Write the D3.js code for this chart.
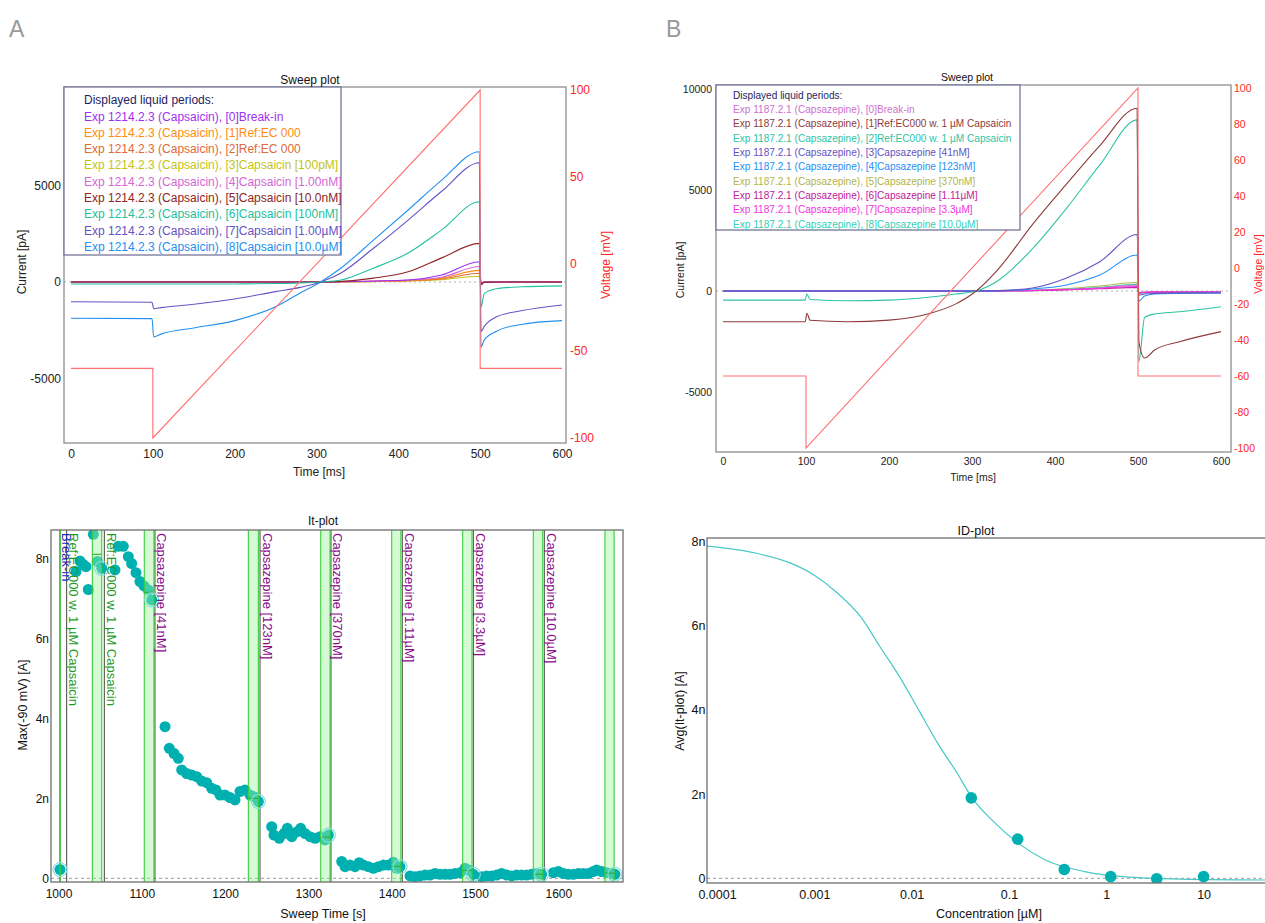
<!DOCTYPE html>
<html><head><meta charset="utf-8">
<script src="https://cdnjs.cloudflare.com/ajax/libs/d3/7.8.5/d3.min.js"></script>
<style>
body{margin:0;background:#fff;}
svg{display:block;}
</style></head><body>
<svg id="chart" width="1265" height="923"></svg>
<script>
// ---------------- DATA ----------------
// Panel A sweep plot (current in pA, time in ms)
const sweepTimeA = [0, 99, 101, 110, 150, 200, 250, 280, 305, 330, 370, 412, 453, 499, 501, 505, 520, 550, 600];
const A0 = [0,0,0,0,0,0,0,0,0,10,50,100,360,1050,-80,0,0,0,0];
const A1 = [0,0,0,0,0,0,0,0,0,10,30,80,200,600,-60,0,0,0,0];
const A2 = [0,0,0,0,0,0,0,0,0,10,30,70,160,450,-50,0,0,0,0];
const A3 = [0,0,0,0,0,0,0,0,0,5,20,50,120,300,-40,0,0,0,0];
const A4 = [0,0,0,0,0,0,0,0,0,10,40,100,250,800,-60,0,0,0,0];
const A5 = [0,0,0,0,0,0,0,0,0,30,200,530,1250,2000,-150,-20,0,0,0];
const A6 = [-100,-100,-100,-100,-100,-100,-80,-50,0,100,725,1500,2700,4160,-1300,-600,-350,-250,-200];
const A7 = [-1020,-1050,-1380,-1330,-1150,-880,-500,-280,0,470,1760,3210,4700,6180,-2570,-2300,-1800,-1490,-1190];
const A8 = [-1880,-1900,-2850,-2700,-2380,-2000,-1280,-570,0,725,2180,3730,5280,6750,-3370,-3000,-2550,-2200,-2000];
const legendA = [
  "Exp 1214.2.3 (Capsaicin), [0]Break-in",
  "Exp 1214.2.3 (Capsaicin), [1]Ref:EC 000",
  "Exp 1214.2.3 (Capsaicin), [2]Ref:EC 000",
  "Exp 1214.2.3 (Capsaicin), [3]Capsaicin [100pM]",
  "Exp 1214.2.3 (Capsaicin), [4]Capsaicin [1.00nM]",
  "Exp 1214.2.3 (Capsaicin), [5]Capsaicin [10.0nM]",
  "Exp 1214.2.3 (Capsaicin), [6]Capsaicin [100nM]",
  "Exp 1214.2.3 (Capsaicin), [7]Capsaicin [1.00µM]",
  "Exp 1214.2.3 (Capsaicin), [8]Capsaicin [10.0µM]"];
const colorsA = ["#a030f0","#ff8c10","#e06a3a","#c4c418","#d468d4","#902424","#22c0a0","#6452c4","#2290f0"];

// Panel B sweep plot
const sweepTimeB = [0, 99, 101, 105, 150, 200, 250, 280, 305, 333, 373, 414, 454, 499, 501, 508, 520, 550, 600];
const B0 = [0,0,0,0,0,0,0,0,0,0,20,60,150,300,-100,-60,-50,-50,-50];
const B1 = [-1520,-1520,-1100,-1450,-1520,-1440,-1100,-650,0,1150,3300,5300,7200,9050,-2500,-3320,-2920,-2510,-2010];
const B2 = [-450,-450,-150,-420,-480,-450,-300,-150,0,560,2100,4100,6240,8470,-3500,-1300,-1140,-1030,-780];
const B3 = [0,0,0,0,0,0,0,0,0,20,150,640,1450,2800,-200,-150,-120,-100,-100];
const B4 = [0,0,0,0,0,0,0,0,0,10,100,300,790,1780,-500,-250,-150,-120,-100];
const B5 = [0,0,0,0,0,0,0,0,0,10,40,120,250,420,-100,-80,-60,-60,-60];
const B6 = [0,0,0,0,0,0,0,0,0,5,20,60,110,180,-80,-60,-50,-50,-50];
const B7 = [0,0,0,0,0,0,0,0,0,5,25,70,130,220,-80,-60,-50,-50,-50];
const B8 = [0,0,0,0,0,0,0,0,0,5,30,90,180,330,-120,-80,-60,-60,-60];
const legendB = [
  "Exp 1187.2.1 (Capsazepine), [0]Break-in",
  "Exp 1187.2.1 (Capsazepine), [1]Ref:EC000 w. 1 µM Capsaicin",
  "Exp 1187.2.1 (Capsazepine), [2]Ref:EC000 w. 1 µM Capsaicin",
  "Exp 1187.2.1 (Capsazepine), [3]Capsazepine [41nM]",
  "Exp 1187.2.1 (Capsazepine), [4]Capsazepine [123nM]",
  "Exp 1187.2.1 (Capsazepine), [5]Capsazepine [370nM]",
  "Exp 1187.2.1 (Capsazepine), [6]Capsazepine [1.11µM]",
  "Exp 1187.2.1 (Capsazepine), [7]Capsazepine [3.3µM]",
  "Exp 1187.2.1 (Capsazepine), [8]Capsazepine [10.0µM]"];
const colorsB = ["#d070d0","#8e3a3a","#2ec4a4","#6452c4","#2290f8","#b4b44a","#c0209c","#f434e0","#34d0b4"];

// Voltage protocol (mV)
const voltTime = [0, 100, 100, 500, 500, 600];
const voltValue = [-60, -60, -100, 100, -60, -60];

// Panel C It-plot (time s, current nA)
const itTime = [1001.8,
  1021,1025.8,1029.5,1033,1035.8,1041.8,1046.6,1051.9,
  1067.8,1071.8,1077.8,1083.8,1087.8,1093,1097.8,1102.6,1107.8,1111.9,
  1127.9,1133,1138.7,1143.8,1147.9,1153.9,1159.9,1165.9,1171.9,1177.9,1183.9,1189,1193.9,1199.9,1205.9,1211.9,1217.9,1223.9,1229.9,1234.7,1239.9,
  1255.9,1258.6,1265,1270.7,1274.7,1280,1286,1290.7,1296,1302,1308,1314,1320,1324,
  1340,1344,1350,1356,1361,1366,1372,1378,1384,1390,1396,1402,1406,1410,
  1422,1428,1434,1440,1446,1452,1458,1464,1470,1476,1482,1488,1492,1498,
  1508,1514,1520,1526,1532,1538,1544,1550,1556,1562,1568,1574,1580,
  1594,1600,1606,1612,1618,1624,1630,1636,1642,1646,1652,1658,1664,1668];
const itValue = [0.22,
  7.67,7.93,7.85,7.79,7.22,8.6,7.92,7.75,
  7.71,8.3,8.3,8.04,7.87,7.64,7.42,7.31,7.21,6.96,
  3.79,3.25,3.12,3.0,2.71,2.62,2.58,2.54,2.43,2.39,2.25,2.21,2.08,2.08,2.02,1.96,2.17,2.21,2.08,2.04,1.92,
  1.29,1.08,1.0,1.12,1.25,1.04,1.16,1.25,1.12,1.04,1.0,1.04,0.96,1.08,
  0.42,0.29,0.33,0.29,0.39,0.33,0.29,0.25,0.29,0.33,0.33,0.4,0.25,0.29,
  0.06,0.04,0.06,0.08,0.08,0.12,0.1,0.1,0.1,0.12,0.14,0.25,0.21,0.1,
  0.04,0.06,0.06,0.08,0.12,0.08,0.06,0.08,0.08,0.08,0.1,0.12,0.1,
  0.14,0.17,0.12,0.1,0.1,0.12,0.12,0.12,0.17,0.21,0.17,0.14,0.12,0.1];
const periodLabels = ["Break-in","Ref:EC000 w. 1 µM Capsaicin","Ref:EC000 w. 1 µM Capsaicin",
  "Capsazepine [41nM]","Capsazepine [123nM]","Capsazepine [370nM]","Capsazepine [1.11µM]","Capsazepine [3.3µM]","Capsazepine [10.0µM]"];
const periodColors = ["#2626c8","#1e9a1e","#1e9a1e","#8a0a8a","#8a0a8a","#8a0a8a","#8a0a8a","#8a0a8a","#8a0a8a"];
const periodStarts = [1001.8, 1009.8, 1055, 1115.8, 1241.9, 1327.1, 1412.7, 1498, 1583.2];
const bandStarts = [1001.8, 1040.6, 1103, 1227.9, 1314.8, 1400, 1485.2, 1570, 1656];
const bandEnds   = [1001.8, 1051.9, 1114.6, 1239.9, 1326, 1411, 1496.4, 1581.3, 1667];
const bandAvg    = [0.22, 8.1, 7.15, 2.0, 1.03, 0.3, 0.2, 0.1, 0.13];
const circleTime  = [1001.8, 1051.9, 1111.9, 1239.9, 1324, 1410, 1498, 1580, 1668];
const circleValue = [0.22, 7.75, 6.96, 1.92, 1.08, 0.29, 0.1, 0.1, 0.1];

// Panel D ID-plot (concentration µM, current nA)
const idConc  = [0.041, 0.123, 0.37, 1.11, 3.3, 10.0];
const idValue = [1.91, 0.93, 0.21, 0.04, -0.01, 0.04];
const fitConc  = [7.9e-5, 2.55e-4, 5.8e-4, 1.0e-3, 1.74e-3, 3.0e-3, 4.73e-3, 7.5e-3, 0.0118, 0.0186, 0.0295, 0.0418, 0.067, 0.125, 0.24, 0.6, 1.5, 5.9, 43];
const fitValue = [7.89, 7.72, 7.48, 7.2, 6.77, 6.21, 5.5, 4.79, 4.0, 3.2, 2.49, 1.91, 1.38, 0.83, 0.43, 0.16, 0.04, -0.02, -0.04];
const idTickValues = [0.0001, 0.001, 0.01, 0.1, 1, 10];
const idTickLabels = ["0.0001","0.001","0.01","0.1","1","10"];
const nTickValues = [0, 2, 4, 6, 8];
const nTickLabels = ["0","2n","4n","6n","8n"];

// ---------------- DRAWING ----------------
const FF = '"Liberation Sans", Arial, Helvetica, sans-serif';
const plain = d => String(d);
const svg = d3.select("#chart").attr("font-family", FF);
const defs = svg.append("defs");
function clip(id, x, y, w, h) {
  defs.append("clipPath").attr("id", id).append("rect").attr("x", x).attr("y", y).attr("width", w).attr("height", h);
  return "url(#" + id + ")";
}
function cleanAxis(g, size, color) {
  g.attr("font-family", FF).attr("font-size", size);
  g.select(".domain").remove();
  g.selectAll(".tick line").remove();
  g.selectAll(".tick text").attr("fill", color);
}

// Panel letters
svg.append("text").attr("x", 9).attr("y", 37).attr("font-size", 23).attr("fill", "#999").text("A");
svg.append("text").attr("x", 666).attr("y", 37).attr("font-size", 23).attr("fill", "#999").text("B");

function sweepPanel(c) {
  const x = d3.scaleLinear().domain([0, 600]).range(c.xr);
  const yL = d3.scaleLinear().domain(c.yLd).range(c.yLr);
  const yR = d3.scaleLinear().domain([-100, 100]).range(c.yRr);
  const f = c.frame;
  const cp = clip(c.id, f.l, f.t, f.r - f.l, f.b - f.t);
  const g = svg.append("g");
  g.append("line").attr("x1", f.l).attr("x2", f.r).attr("y1", yL(0)).attr("y2", yL(0))
    .attr("stroke", "#b0b0b0").attr("stroke-width", 1.2).attr("stroke-dasharray", "2,3");
  const line = d3.line().x((d, i) => x(c.time[i])).y(d => yL(d)).curve(d3.curveMonotoneX);
  const tg = g.append("g").attr("clip-path", cp);
  c.order.forEach(i => {
    tg.append("path").attr("d", line(c.series[i])).attr("fill", "none")
      .attr("stroke", c.colors[i]).attr("stroke-width", 1.1);
  });
  const vline = d3.line().x((d, i) => x(voltTime[i])).y(d => yR(d));
  tg.append("path").attr("d", vline(voltValue)).attr("fill", "none").attr("stroke", "#ff7070").attr("stroke-width", 1.1);
  g.append("rect").attr("x", f.l).attr("y", f.t).attr("width", f.r - f.l).attr("height", f.b - f.t)
    .attr("fill", "none").attr("stroke", "#8e8e8e").attr("stroke-width", 1.3);
  const L = c.leg;
  g.append("rect").attr("x", L.l).attr("y", L.t).attr("width", L.r - L.l).attr("height", L.b - L.t)
    .attr("fill", "#fff").attr("stroke", "#76769a").attr("stroke-width", 1.3);
  g.append("text").attr("x", L.tx).attr("y", L.hy).attr("font-size", L.fs).attr("fill", "#1e1e62")
    .text("Displayed liquid periods:");
  c.legend.forEach((t, i) => {
    g.append("text").attr("x", L.tx).attr("y", L.y0 + i * L.dy).attr("font-size", L.fs)
      .attr("fill", c.colors[i]).text(t);
  });
  const gx = g.append("g").attr("transform", `translate(0,${f.b})`)
    .call(d3.axisBottom(x).tickValues([0,100,200,300,400,500,600]).tickFormat(plain).tickSize(0).tickPadding(c.padX));
  cleanAxis(gx, c.fs, "#222");
  const gl = g.append("g").attr("transform", `translate(${f.l},0)`)
    .call(d3.axisLeft(yL).tickValues(c.ticksL).tickFormat(plain).tickSize(0).tickPadding(c.padL));
  cleanAxis(gl, c.fs, "#222");
  const gr = g.append("g").attr("transform", `translate(${f.r},0)`)
    .call(d3.axisRight(yR).tickValues(c.ticksR).tickFormat(plain).tickSize(0).tickPadding(c.padR));
  cleanAxis(gr, c.fs, "#ff2424");
  g.append("text").attr("x", c.title[0]).attr("y", c.title[1]).attr("text-anchor", "middle")
    .attr("font-size", c.fs).attr("fill", "#111").text("Sweep plot");
  g.append("text").attr("x", c.xlab[0]).attr("y", c.xlab[1]).attr("text-anchor", "middle")
    .attr("font-size", c.fs).attr("fill", "#222").text("Time [ms]");
  g.append("text").attr("transform", `translate(${c.ylab[0]},${c.ylab[1]}) rotate(-90)`).attr("text-anchor", "middle")
    .attr("font-size", c.fs).attr("fill", "#222").text("Current [pA]");
  g.append("text").attr("transform", `translate(${c.vlab[0]},${c.vlab[1]}) rotate(-90)`).attr("text-anchor", "middle")
    .attr("font-size", c.fs).attr("fill", "#ff2424").text("Voltage [mV]");
}

sweepPanel({
  id: "clipA", xr: [71, 562], yLd: [-5000, 5000], yLr: [378.5, 185.5], yRr: [438, 90],
  frame: {l: 64, r: 566, t: 87, b: 443},
  time: sweepTimeA, series: [A0, A1, A2, A3, A4, A5, A6, A7, A8], colors: colorsA,
  order: [3, 2, 1, 4, 0, 5, 6, 7, 8],
  legend: legendA,
  leg: {l: 64, r: 341, t: 87, b: 255, tx: 84, hy: 104, y0: 120.5, dy: 16.3, fs: 12},
  ticksL: [-5000, 0, 5000], ticksR: [-100, -50, 0, 50, 100],
  fs: 12, padX: 6, padL: 3, padR: 4,
  title: [310, 84], xlab: [319, 476], ylab: [26, 262], vlab: [610, 265]
});

sweepPanel({
  id: "clipB", xr: [723, 1221], yLd: [-5000, 10000], yLr: [392, 89], yRr: [448, 88],
  frame: {l: 716, r: 1231, t: 85, b: 452},
  time: sweepTimeB, series: [B0, B1, B2, B3, B4, B5, B6, B7, B8], colors: colorsB,
  order: [5, 8, 0, 6, 7, 4, 3, 2, 1],
  legend: legendB,
  leg: {l: 716, r: 1020, t: 85, b: 230, tx: 733, hy: 98.5, y0: 113, dy: 14.33, fs: 10.1},
  ticksL: [-5000, 0, 5000, 10000], ticksR: [-100, -80, -60, -40, -20, 0, 20, 40, 60, 80, 100],
  fs: 10.5, padX: 6, padL: 4, padR: 3,
  title: [967, 81], xlab: [973, 481], ylab: [684, 270], vlab: [1262, 264]
});

// ---------- Panel C: It-plot ----------
(function () {
  const f = {l: 51, r: 623, t: 530, b: 882};
  const x = d3.scaleLinear().domain([1000, 1600]).range([58.5, 558.3]);
  const y = d3.scaleLinear().domain([0, 8]).range([878.3, 558.3]);
  const g = svg.append("g");
  const cp = clip("clipC", f.l, f.t, f.r - f.l, f.b - f.t);
  const pg = g.append("g").attr("clip-path", cp);
  pg.append("line").attr("x1", f.l).attr("x2", f.r).attr("y1", y(0)).attr("y2", y(0))
    .attr("stroke", "#9a9a9a").attr("stroke-dasharray", "3,3");
  periodStarts.forEach(t => {
    pg.append("line").attr("x1", x(t)).attr("x2", x(t)).attr("y1", f.t).attr("y2", f.b)
      .attr("stroke", "#444").attr("stroke-width", 1);
  });
  pg.selectAll("circle.dot").data(itTime).join("circle").attr("class", "dot")
    .attr("cx", d => x(d)).attr("cy", (d, i) => y(itValue[i])).attr("r", 5.5)
    .attr("fill", "#00b0b0");
  bandStarts.forEach((s, i) => {
    const x0 = x(s), x1 = x(bandEnds[i]);
    pg.append("rect").attr("x", x0).attr("y", f.t).attr("width", Math.max(0, x1 - x0)).attr("height", f.b - f.t)
      .attr("fill", "#9cf59c").attr("fill-opacity", 0.42);
    [x0, x1].forEach(xx => pg.append("line").attr("x1", xx).attr("x2", xx).attr("y1", f.t).attr("y2", f.b)
      .attr("stroke", "#3ccc3c").attr("stroke-width", 1.1));
    pg.append("line").attr("x1", x0).attr("x2", x1).attr("y1", y(bandAvg[i])).attr("y2", y(bandAvg[i]))
      .attr("stroke", "#2cb02c").attr("stroke-width", 1.1);
  });
  circleTime.forEach((t, i) => {
    pg.append("circle").attr("cx", x(t)).attr("cy", y(circleValue[i])).attr("r", 7)
      .attr("fill", "none").attr("stroke", "#7fdede").attr("stroke-width", 1.1);
  });
  periodStarts.forEach((t, i) => {
    pg.append("text").attr("transform", `translate(${x(t) + 2.5},533) rotate(90)`)
      .attr("font-size", 13).attr("fill", periodColors[i]).text(periodLabels[i]);
  });
  g.append("rect").attr("x", f.l).attr("y", f.t).attr("width", f.r - f.l).attr("height", f.b - f.t)
    .attr("fill", "none").attr("stroke", "#6e6e6e").attr("stroke-width", 1.3);
  const gx = g.append("g").attr("transform", `translate(0,${f.b})`)
    .call(d3.axisBottom(x).tickValues([1000,1100,1200,1300,1400,1500,1600]).tickFormat(plain).tickSize(0).tickPadding(7));
  cleanAxis(gx, 12, "#111");
  const gy = g.append("g").attr("transform", `translate(${f.l},0)`)
    .call(d3.axisLeft(y).tickValues(nTickValues).tickFormat((d, i) => nTickLabels[i]).tickSize(0).tickPadding(2));
  cleanAxis(gy, 12, "#111");
  g.append("text").attr("x", 323).attr("y", 525).attr("text-anchor", "middle").attr("font-size", 12).attr("fill", "#111").text("It-plot");
  g.append("text").attr("x", 323).attr("y", 918).attr("text-anchor", "middle").attr("font-size", 12.5).attr("fill", "#111").text("Sweep Time [s]");
  g.append("text").attr("transform", "translate(27,705) rotate(-90)").attr("text-anchor", "middle")
    .attr("font-size", 12.5).attr("fill", "#111").text("Max(-90 mV) [A]");
})();

// ---------- Panel D: ID-plot ----------
(function () {
  const f = {l: 707, r: 1272, t: 538, b: 883};
  const x = d3.scaleLog().domain([1e-4, 10]).range([717, 1203.6]);
  const y = d3.scaleLinear().domain([0, 8]).range([878.3, 541.5]);
  const g = svg.append("g");
  const cp = clip("clipD", f.l, f.t, f.r - f.l, f.b - f.t);
  const pg = g.append("g").attr("clip-path", cp);
  pg.append("line").attr("x1", f.l).attr("x2", f.r).attr("y1", y(0)).attr("y2", y(0))
    .attr("stroke", "#9a9a9a").attr("stroke-dasharray", "3,3");
  const line = d3.line().x((d, i) => x(fitConc[i])).y(d => y(d)).curve(d3.curveMonotoneX);
  pg.append("path").attr("d", line(fitValue)).attr("fill", "none").attr("stroke", "#48c8c8").attr("stroke-width", 1.2);
  pg.selectAll("circle.dot").data(idConc).join("circle").attr("class", "dot")
    .attr("cx", d => x(d)).attr("cy", (d, i) => y(idValue[i])).attr("r", 5.8).attr("fill", "#00b0b0");
  g.append("rect").attr("x", f.l).attr("y", f.t).attr("width", f.r - f.l).attr("height", f.b - f.t)
    .attr("fill", "none").attr("stroke", "#6e6e6e").attr("stroke-width", 1.3);
  const gx = g.append("g").attr("transform", `translate(0,${f.b})`)
    .call(d3.axisBottom(x).tickValues(idTickValues).tickFormat((d, i) => idTickLabels[i]).tickSize(0).tickPadding(7));
  cleanAxis(gx, 12.5, "#111");
  const gy = g.append("g").attr("transform", `translate(${f.l},0)`)
    .call(d3.axisLeft(y).tickValues(nTickValues).tickFormat((d, i) => nTickLabels[i]).tickSize(0).tickPadding(1.5));
  cleanAxis(gy, 12.5, "#111");
  g.append("text").attr("x", 976).attr("y", 535).attr("text-anchor", "middle").attr("font-size", 12.5).attr("fill", "#111").text("ID-plot");
  g.append("text").attr("x", 989).attr("y", 918).attr("text-anchor", "middle").attr("font-size", 12.5).attr("fill", "#111").text("Concentration [µM]");
  g.append("text").attr("transform", "translate(684,711) rotate(-90)").attr("text-anchor", "middle")
    .attr("font-size", 12.5).attr("fill", "#111").text("Avg(It-plot) [A]");
})();
</script></body></html>
